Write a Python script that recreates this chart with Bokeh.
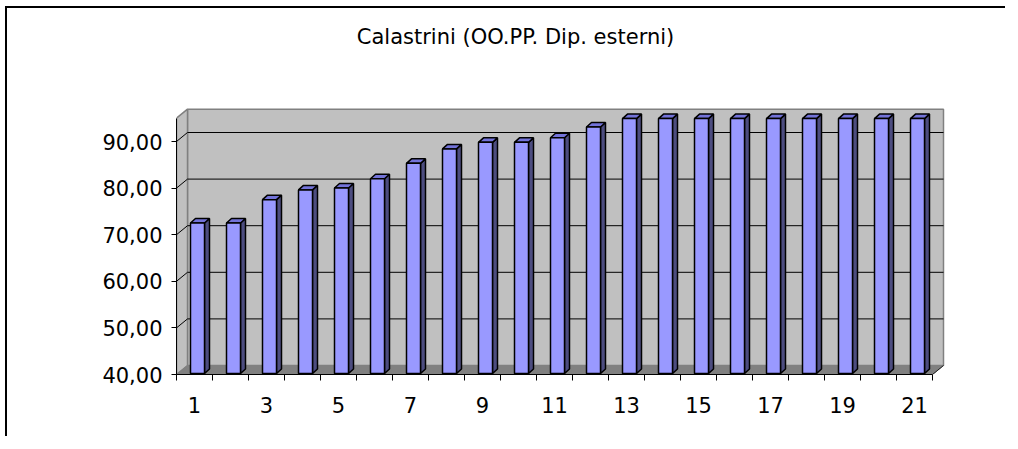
from bokeh.plotting import figure
from bokeh.models import Range1d, FixedTicker
from bokeh.core.properties import value
from bokeh.embed import file_html
from bokeh.resources import INLINE

# ---------------- data ----------------
title_text = "Calastrini (OO.PP. Dip. esterni)"
categories = list(range(1, 22))
values = [72.3, 72.3, 77.3, 79.4, 79.8, 81.8, 85.1, 88.2, 89.6, 89.6, 90.6,
          92.9, 94.7, 94.7, 94.7, 94.7, 94.7, 94.7, 94.7, 94.7, 94.7]
x_tick_values = [1, 3, 5, 7, 9, 11, 13, 15, 17, 19, 21]
y_tick_values = [40, 50, 60, 70, 80, 90]
y_tick_labels = ["40,00", "50,00", "60,00", "70,00", "80,00", "90,00"]
y_min, y_wall_top = 40, 95

# ---------------- layout (pixels, canvas coordinates) ----------------
OFF_X, OFF_Y = 7, 8                           # canvas origin on the page
W, H = 1000, 430
FRAME_LEFT, FRAME_BOTTOM = 176 - OFF_X, 374 - OFF_Y
PX_CAT = 36.0                                 # pixels per category
PX_UNIT = 4.66                                # pixels per value unit

def px_x(px):
    return px / PX_CAT

def px_y(px):
    return px / PX_UNIT

x0 = 0.5
x_end = x0 + px_x(W - FRAME_LEFT)
y_end = y_min + px_y(FRAME_BOTTOM)
n = len(categories)
x1 = x0 + n

p = figure(width=W, height=H, output_backend="svg", toolbar_location=None,
           x_range=Range1d(x0, x_end), y_range=Range1d(y_min, y_end),
           min_border_left=FRAME_LEFT, min_border_right=0, min_border_top=0,
           min_border_bottom=H - FRAME_BOTTOM)
p.outline_line_color = None
p.background_fill_color = "white"
p.border_fill_color = "white"
p.xgrid.visible = False
p.ygrid.visible = False
# outer chart border (only top and left edges are visible in the reference)
p.styles = {"border-top": "2px solid #000000", "border-left": "2px solid #000000",
            "margin-left": "5px", "margin-top": "6px"}

# depth of walls
DXW, DYW = px_x(11), px_y(9)

# back wall
p.patch([x0 + DXW, x1 + DXW, x1 + DXW, x0 + DXW],
        [y_min + DYW, y_min + DYW, y_wall_top + DYW, y_wall_top + DYW],
        fill_color="#C0C0C0", line_color="#808080", line_width=1.5)
# left wall
p.patch([x0, x0 + DXW, x0 + DXW, x0],
        [y_min, y_min + DYW, y_wall_top + DYW, y_wall_top],
        fill_color="#C0C0C0", line_color="#808080", line_width=1.5)
# floor
p.patch([x0, x1, x1 + DXW, x0 + DXW],
        [y_min, y_min, y_min + DYW, y_min + DYW],
        fill_color="#808080", line_color="#808080", line_width=1)
p.line([x1, x1 + DXW], [y_min, y_min + DYW], line_color="#202020", line_width=1)

# gridlines on back wall and left wall
grid_vals = [v for v in y_tick_values if v > y_min]
p.segment(x0=[x0 + DXW] * len(grid_vals), y0=[g + DYW for g in grid_vals],
          x1=[x1 + DXW] * len(grid_vals), y1=[g + DYW for g in grid_vals],
          line_color="#000000", line_width=1)
p.segment(x0=[x0] * len(grid_vals), y0=grid_vals,
          x1=[x0 + DXW] * len(grid_vals), y1=[g + DYW for g in grid_vals],
          line_color="#000000", line_width=1)

# bars (3D)
F_L, F_R = px_x(-4), px_x(10)     # front face edges relative to category centre
F_DY = px_y(1)
S_DX, S_DY = px_x(5), px_y(4.5)   # bar depth
front_xs, front_ys, side_xs, side_ys, top_xs, top_ys = [], [], [], [], [], []
for c, v in zip(categories, values):
    l, r = c + F_L, c + F_R
    b, t = y_min + F_DY, v + F_DY
    front_xs.append([l, r, r, l]); front_ys.append([b, b, t, t])
    side_xs.append([r, r + S_DX, r + S_DX, r]); side_ys.append([b, b + S_DY, t + S_DY, t])
    top_xs.append([l, r, r + S_DX, l + S_DX]); top_ys.append([t, t, t + S_DY, t + S_DY])

p.patches(side_xs, side_ys, fill_color="#4D4D80", line_color="#000000", line_width=1.5)
p.patches(top_xs, top_ys, fill_color="#7373D9", line_color="#000000", line_width=1.5)
p.patches(front_xs, front_ys, fill_color="#9999FF", line_color="#000000", line_width=1.5)

# title
p.text(x=[x0 + px_x(515 - 176)], y=[y_min + px_y(374 - 36)],
       text=[title_text], text_align="center", text_baseline="middle",
       text_font=value("DejaVu Sans"), text_font_size="21px", text_color="#000000")

# x axis
xa = p.xaxis[0]
xa.ticker = FixedTicker(ticks=x_tick_values, minor_ticks=[c - 0.5 for c in categories] + [x1])
xa.bounds = (x0, x1)
xa.axis_line_color = "#000000"
xa.axis_line_width = 1
xa.major_tick_out = 0
xa.major_tick_in = 0
xa.minor_tick_out = 6
xa.minor_tick_in = 0
xa.minor_tick_line_color = "#000000"
xa.major_label_standoff = 16
xa.major_label_text_font = "DejaVu Sans"
xa.major_label_text_font_size = "21px"
xa.major_label_text_color = "#000000"

# y axis
ya = p.yaxis[0]
ya.ticker = FixedTicker(ticks=y_tick_values, minor_ticks=[])
ya.bounds = (y_min, y_wall_top)
ya.major_label_overrides = {t: lab for t, lab in zip(y_tick_values, y_tick_labels)}
ya.axis_line_color = "#000000"
ya.axis_line_width = 1
ya.major_tick_out = 5
ya.major_tick_in = 0
ya.major_tick_line_color = "#000000"
ya.major_label_standoff = 9
ya.major_label_text_font = "DejaVu Sans"
ya.major_label_text_font_size = "21px"
ya.major_label_text_color = "#000000"

open("out.html", "w").write(file_html(p, INLINE))
